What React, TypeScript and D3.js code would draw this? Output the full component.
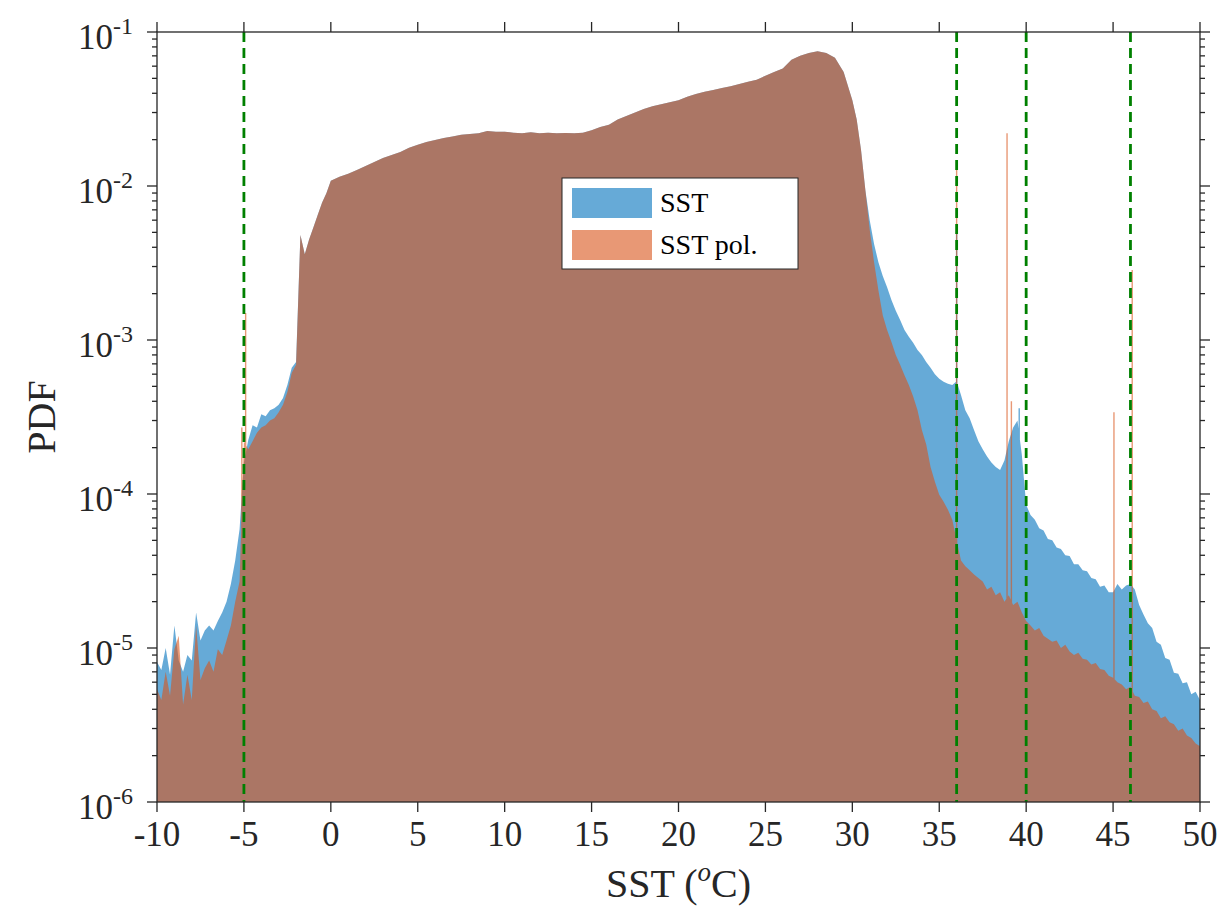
import React from 'react';
import * as d3 from 'd3';

// Temperature bin centres (°C)
const temps = [
  -10, -9.75, -9.5, -9.25, -9, -8.75, -8.5, -8.25, -8, -7.75, -7.5, -7.25, -7, -6.75, -6.5, -6.25, -6, -5.75, -5.5, -5.25, -5,
  -4.75, -4.5, -4.25, -4, -3.75, -3.5, -3.25, -3, -2.75, -2.5, -2.25, -2, -1.75, -1.5, -1.25, -1, -0.75, -0.5, -0.25, 0,
  0.5, 1, 1.5, 2, 2.5, 3, 3.5, 4, 4.5, 5, 5.5, 6, 6.5, 7, 7.5, 8, 8.5, 9, 9.5, 10,
  10.5, 11, 11.5, 12, 12.5, 13, 13.5, 14, 14.5, 15, 15.5, 16, 16.5, 17, 17.5, 18, 18.5, 19, 19.5, 20,
  20.5, 21, 21.5, 22, 22.5, 23, 23.5, 24, 24.5, 25, 25.5, 26, 26.5, 27, 27.5, 28, 28.5, 29, 29.5, 30,
  30.25, 30.5, 30.75, 31, 31.25, 31.5, 31.75, 32, 32.25, 32.5, 32.75, 33, 33.25, 33.5, 33.75, 34, 34.25, 34.5, 34.75, 35,
  35.25, 35.5, 35.75, 36, 36.25, 36.5, 36.75, 37, 37.25, 37.5, 37.75, 38, 38.25, 38.5, 38.75, 39, 39.25, 39.5, 39.75, 40,
  40.25, 40.5, 40.75, 41, 41.25, 41.5, 41.75, 42, 42.25, 42.5, 42.75, 43, 43.25, 43.5, 43.75, 44, 44.25, 44.5, 44.75, 45,
  45.25, 45.5, 45.75, 46, 46.25, 46.5, 46.75, 47, 47.25, 47.5, 47.75, 48, 48.25, 48.5, 48.75, 49, 49.25, 49.5, 49.75, 50,
];

// PDF of SST
const sstPdf = [
  8.1e-6, 7.2e-6, 1.0e-5, 6.7e-6, 1.4e-5, 8.3e-6, 7.0e-6, 9.0e-6, 8.3e-6, 1.7e-5, 1.12e-5, 1.3e-5, 1.4e-5, 1.3e-5, 1.5e-5, 1.7e-5, 2.0e-5, 2.6e-5, 3.7e-5, 5.9e-5, 1.6e-4,
  2.24e-4, 2.8e-4, 2.7e-4, 3.3e-4, 3.2e-4, 3.5e-4, 3.6e-4, 3.8e-4, 4.2e-4, 5.1e-4, 6.6e-4, 7.2e-4, 4.8e-3, 3.6e-3, 4.5e-3, 5.4e-3, 6.5e-3, 7.8e-3, 9.0e-3, 1.08e-2,
  1.15e-2, 1.2e-2, 1.27e-2, 1.35e-2, 1.43e-2, 1.52e-2, 1.59e-2, 1.66e-2, 1.77e-2, 1.85e-2,
  1.93e-2, 1.99e-2, 2.05e-2, 2.1e-2, 2.15e-2, 2.18e-2, 2.2e-2, 2.28e-2, 2.25e-2, 2.25e-2,
  2.22e-2, 2.2e-2, 2.23e-2, 2.2e-2, 2.22e-2, 2.2e-2, 2.21e-2, 2.2e-2, 2.22e-2, 2.3e-2,
  2.42e-2, 2.5e-2, 2.7e-2, 2.85e-2, 3.0e-2, 3.16e-2, 3.3e-2, 3.4e-2, 3.5e-2, 3.6e-2,
  3.8e-2, 3.95e-2, 4.1e-2, 4.2e-2, 4.33e-2, 4.45e-2, 4.6e-2, 4.75e-2, 4.9e-2, 5.2e-2,
  5.5e-2, 5.8e-2, 6.6e-2, 7.0e-2, 7.3e-2, 7.5e-2, 7.3e-2, 6.8e-2, 5.5e-2, 3.6e-2,
  2.7e-2, 1.71e-2, 9.4e-3, 6.0e-3, 4.2e-3, 3.2e-3, 2.6e-3, 2.2e-3, 1.82e-3, 1.55e-3,
  1.35e-3, 1.16e-3, 1.05e-3, 9.6e-4, 8.6e-4, 8.0e-4, 7.2e-4, 6.6e-4, 6.0e-4, 5.6e-4,
  5.35e-4, 5.2e-4, 5.1e-4, 5.4e-4, 4.4e-4, 3.5e-4, 3.1e-4, 2.6e-4, 2.2e-4, 1.95e-4,
  1.75e-4, 1.6e-4, 1.5e-4, 1.43e-4, 1.65e-4, 2.2e-4, 2.7e-4, 3.0e-4, 1.8e-4, 8.5e-5,
  7.3e-5, 6.8e-5, 6.0e-5, 5.8e-5, 5.1e-5, 5.0e-5, 4.5e-5, 4.4e-5, 4.0e-5, 3.95e-5,
  3.5e-5, 3.5e-5, 3.2e-5, 3.15e-5, 2.85e-5, 2.8e-5, 2.5e-5, 2.55e-5, 2.3e-5, 2.3e-5,
  2.6e-5, 2.4e-5, 2.55e-5, 2.6e-5, 2.4e-5, 1.9e-5, 1.65e-5, 1.45e-5, 1.35e-5, 1.1e-5,
  1.05e-5, 8.6e-6, 8.4e-6, 6.9e-6, 6.8e-6, 5.9e-6, 6.0e-6, 5.0e-6, 5.2e-6, 4.6e-6,
];

// PDF of SST pol.
const polPdf = [
  5.4e-6, 4.6e-6, 7.0e-6, 4.9e-6, 9.8e-6, 1.2e-5, 4.3e-6, 6.7e-6, 4.6e-6, 1.4e-5, 6.2e-6, 7.4e-6, 8.3e-6, 7.0e-6, 9.8e-6, 9.0e-6, 1.12e-5, 1.4e-5, 2.0e-5, 2.7e-5, 2.2e-4,
  1.95e-4, 2.2e-4, 2.5e-4, 2.7e-4, 2.8e-4, 3.0e-4, 3.1e-4, 3.4e-4, 3.8e-4, 4.6e-4, 6.1e-4, 6.9e-4, 4.8e-3, 3.6e-3, 4.5e-3, 5.4e-3, 6.5e-3, 7.8e-3, 9.0e-3, 1.08e-2,
  1.15e-2, 1.2e-2, 1.27e-2, 1.35e-2, 1.43e-2, 1.52e-2, 1.59e-2, 1.66e-2, 1.77e-2, 1.85e-2,
  1.93e-2, 1.99e-2, 2.05e-2, 2.1e-2, 2.15e-2, 2.18e-2, 2.2e-2, 2.28e-2, 2.25e-2, 2.25e-2,
  2.22e-2, 2.2e-2, 2.23e-2, 2.2e-2, 2.22e-2, 2.2e-2, 2.21e-2, 2.2e-2, 2.22e-2, 2.3e-2,
  2.42e-2, 2.5e-2, 2.7e-2, 2.85e-2, 3.0e-2, 3.16e-2, 3.3e-2, 3.4e-2, 3.5e-2, 3.6e-2,
  3.8e-2, 3.95e-2, 4.1e-2, 4.2e-2, 4.33e-2, 4.45e-2, 4.6e-2, 4.75e-2, 4.9e-2, 5.2e-2,
  5.5e-2, 5.8e-2, 6.6e-2, 7.0e-2, 7.3e-2, 7.5e-2, 7.3e-2, 6.8e-2, 5.5e-2, 3.6e-2,
  2.7e-2, 1.71e-2, 9.4e-3, 5.2e-3, 3.2e-3, 2.1e-3, 1.45e-3, 1.16e-3, 9.7e-4, 8.0e-4,
  6.9e-4, 5.9e-4, 5.1e-4, 4.3e-4, 3.5e-4, 2.6e-4, 2.1e-4, 1.5e-4, 1.2e-4, 9.9e-5,
  8.9e-5, 7.9e-5, 6.8e-5, 5.0e-5, 3.7e-5, 3.4e-5, 3.2e-5, 3.0e-5, 2.85e-5, 2.7e-5,
  2.4e-5, 2.5e-5, 2.2e-5, 2.3e-5, 2.0e-5, 2.2e-5, 1.9e-5, 2.0e-5, 1.7e-5, 1.5e-5,
  1.4e-5, 1.3e-5, 1.35e-5, 1.2e-5, 1.15e-5, 1.1e-5, 1.12e-5, 1.0e-5, 1.05e-5, 9.5e-6,
  9.0e-6, 9.3e-6, 8.5e-6, 8.4e-6, 7.8e-6, 8.0e-6, 7.3e-6, 7.2e-6, 6.6e-6, 6.4e-6,
  6.0e-6, 5.8e-6, 5.4e-6, 5.6e-6, 4.9e-6, 4.8e-6, 4.4e-6, 4.5e-6, 4.0e-6, 3.9e-6,
  3.5e-6, 3.6e-6, 3.3e-6, 3.2e-6, 2.9e-6, 3.0e-6, 2.7e-6, 2.6e-6, 2.4e-6, 2.3e-6,
];

// Single-bin peaks
const sstSpikeTemps = [36.0, 39.6];
const sstSpikeValues = [5.0e-3, 3.6e-4];
const polSpikeTemps = [-5.12, -4.9, 36.0, 38.9, 39.15, 45.05, 46.1];
const polSpikeValues = [2.7e-4, 1.5e-3, 1.3e-2, 2.2e-2, 4.0e-4, 3.4e-4, 2.85e-3];

// Marked temperatures (dashed lines)
const markerTemps = [-5, 36, 40, 46];

const xTickValues = [-10, -5, 0, 5, 10, 15, 20, 25, 30, 35, 40, 45, 50];
const yTickExponents = [-6, -5, -4, -3, -2, -1];
const seriesNames = ['SST', 'SST pol.'];

const FONT = '"Liberation Serif", "Times New Roman", serif';
const AXIS = '#262626';
const BLUE = 'rgb(0,114,189)';
const ORANGE = 'rgb(217,83,25)';
const ALPHA = 0.6;

const PL = 157, PR = 1200, PT = 32, PB = 802;

export default function App() {
  const x = d3.scaleLinear().domain([-10, 50]).range([PL, PR]);
  const y = d3.scaleLog().domain([1e-6, 1e-1]).range([PB, PT]);
  const yBase = y(1e-6);

  const area = d3
    .area<[number, number]>()
    .x((d) => x(d[0]))
    .y0(yBase)
    .y1((d) => y(Math.max(d[1], 1e-6)));

  // Area outline plus one thin bar per peak, in a single path so overlaps fill once
  const seriesPath = (vals: number[], spikeT: number[], spikeV: number[]) => {
    let p = area(temps.map((t, i) => [t, vals[i]] as [number, number])) || '';
    spikeT.forEach((t, i) => {
      const x0 = x(t - 0.04);
      const x1 = x(t + 0.04);
      const yt = y(spikeV[i]);
      p += `M${x0},${yBase}L${x0},${yt}L${x1},${yt}L${x1},${yBase}Z`;
    });
    return p;
  };

  const minorTicks: number[] = [];
  yTickExponents.slice(0, -1).forEach((e) => {
    for (let m = 2; m <= 9; m++) minorTicks.push(m * Math.pow(10, e));
  });

  const lx = 562, ly = 178, lw = 236, lh = 91;

  return (
    <svg
      width={1225}
      height={915}
      style={{ position: 'absolute', left: 0, top: 0, background: '#fff' }}
      fontFamily={FONT}
    >
      <defs>
        <clipPath id="plotClip">
          <rect x={PL} y={PT} width={PR - PL} height={PB - PT} />
        </clipPath>
      </defs>
      <rect x={0} y={0} width={1225} height={915} fill="#fff" />

      <g clipPath="url(#plotClip)">
        <path d={seriesPath(sstPdf, sstSpikeTemps, sstSpikeValues)} fill={BLUE} fillOpacity={ALPHA} />
        <path d={seriesPath(polPdf, polSpikeTemps, polSpikeValues)} fill={ORANGE} fillOpacity={ALPHA} />
        {markerTemps.map((t) => (
          <line
            key={t}
            x1={x(t)}
            x2={x(t)}
            y1={PT}
            y2={PB}
            stroke="rgb(0,128,0)"
            strokeWidth={2.8}
            strokeDasharray="10,6"
          />
        ))}
      </g>

      {/* axes box */}
      <g stroke={AXIS} strokeWidth={1.3} fill="none">
        <rect x={PL} y={PT} width={PR - PL} height={PB - PT} />
        {xTickValues.map((v) => (
          <g key={v}>
            <line x1={x(v)} x2={x(v)} y1={PB} y2={PB + 10} />
            <line x1={x(v)} x2={x(v)} y1={PT} y2={PT - 10} />
          </g>
        ))}
        {yTickExponents.map((e) => (
          <g key={e}>
            <line x1={PL - 10} x2={PL} y1={y(Math.pow(10, e))} y2={y(Math.pow(10, e))} />
            <line x1={PR} x2={PR + 10} y1={y(Math.pow(10, e))} y2={y(Math.pow(10, e))} />
          </g>
        ))}
        {minorTicks.map((v, i) => (
          <g key={i}>
            <line x1={PL - 5} x2={PL} y1={y(v)} y2={y(v)} />
            <line x1={PR} x2={PR + 5} y1={y(v)} y2={y(v)} />
          </g>
        ))}
      </g>

      {/* tick labels */}
      <g fill="#262626" fontSize={35}>
        {xTickValues.map((v) => (
          <text key={v} x={x(v)} y={846} textAnchor="middle">
            {v}
          </text>
        ))}
        {yTickExponents.map((e) => (
          <text key={e} x={133} y={y(Math.pow(10, e)) + 17} textAnchor="end">
            10
            <tspan fontSize={24} dy={-15}>
              {e}
            </tspan>
          </text>
        ))}
      </g>

      {/* axis titles */}
      <text x={(PL + PR) / 2} y={897} textAnchor="middle" fontSize={40} fill="#262626">
        SST (
        <tspan fontSize={27} fontStyle="italic" dy={-16}>
          o
        </tspan>
        <tspan dy={16}>C)</tspan>
      </text>
      <text
        transform={`translate(55,${(PT + PB) / 2}) rotate(-90)`}
        textAnchor="middle"
        fontSize={40}
        fill="#262626"
      >
        PDF
      </text>

      {/* legend */}
      <g>
        <rect x={lx} y={ly} width={lw} height={lh} fill="#fff" stroke={AXIS} strokeWidth={1} />
        {seriesNames.map((name, i) => (
          <g key={name}>
            <rect
              x={lx + 10}
              y={ly + 10 + i * 42}
              width={80}
              height={30}
              fill={i === 0 ? BLUE : ORANGE}
              fillOpacity={ALPHA}
            />
            <text x={lx + 98} y={ly + 34 + i * 42} fontSize={28} fill="#000">
              {name}
            </text>
          </g>
        ))}
      </g>
    </svg>
  );
}
